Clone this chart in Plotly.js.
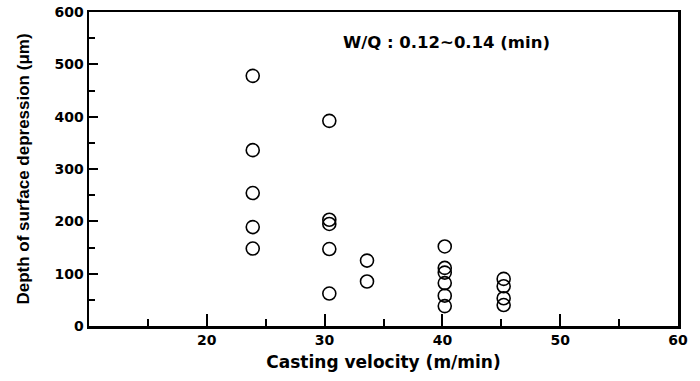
<!DOCTYPE html>
<html>
<head>
<meta charset="utf-8">
<script src="https://cdn.plot.ly/plotly-3.0.1.min.js"></script>
<style>html,body{margin:0;padding:0;background:#fff;}#chart{width:700px;height:381px;}</style>
</head>
<body>
<div id="chart"></div>
<script>
// Casting velocity (m/min)
const velocity = [23.9, 23.9, 23.9, 23.9, 23.9,
                  30.4, 30.4, 30.4, 30.4, 30.4,
                  33.6, 33.6,
                  40.2, 40.2, 40.2, 40.2, 40.2, 40.2,
                  45.2, 45.2, 45.2, 45.2];
// Depth of surface depression (um)
const depth = [478, 336, 254, 189, 148,
               392, 203, 195, 147, 62,
               125, 85,
               152, 111, 102, 82, 58, 38,
               90, 76, 53, 40];
const xTickVals = [20, 30, 40, 50, 60];
const yTickVals = [0, 100, 200, 300, 400, 500, 600];
const noteText = "W/Q : 0.12~0.14 (min)";

const WIDE = "DejaVu Sans, Verdana, sans-serif";
const FONT = "Liberation Sans, Arial, Helvetica, sans-serif";

const trace = {
  x: velocity, y: depth, type: "scatter", mode: "markers",
  marker: {symbol: "circle-open", size: 13, color: "#000", line: {width: 1.6, color: "#000"}},
  hoverinfo: "x+y"
};

const layout = {
  width: 700, height: 381,
  margin: {l: 89, r: 22, t: 12, b: 55},
  paper_bgcolor: "#fff", plot_bgcolor: "#fff",
  showlegend: false,
  font: {family: FONT, color: "#000"},
  xaxis: {
    range: [10, 60], tickmode: "array", tickvals: xTickVals, ticktext: xTickVals.map(v => "<b>" + v + "</b>"),
    ticks: "inside", ticklen: 12, tickwidth: 2, tickcolor: "#000",
    minor: {tick0: 15, dtick: 10, ticks: "inside", ticklen: 7, tickwidth: 2, tickcolor: "#000", showgrid: false},
    showline: true, linewidth: 2.5, linecolor: "#000", mirror: true,
    showgrid: false, zeroline: false,
    tickfont: {family: WIDE, size: 14, color: "#000"},
    title: {text: "<b>Casting velocity (m/min)</b>", font: {family: WIDE, size: 17, color: "#000"}, standoff: 9}
  },
  yaxis: {
    range: [0, 600], tickmode: "array", tickvals: yTickVals, ticktext: yTickVals.map(v => "<b>" + v + "</b>"),
    ticks: "inside", ticklen: 9, tickwidth: 2, tickcolor: "#000",
    minor: {tick0: 50, dtick: 100, ticks: "inside", ticklen: 6, tickwidth: 2, tickcolor: "#000", showgrid: false},
    showline: true, linewidth: 2.5, linecolor: "#000", mirror: true,
    showgrid: false, zeroline: false,
    tickfont: {family: WIDE, size: 14, color: "#000"},
    title: {text: "<b>Depth of surface depression (μm)</b>", font: {family: FONT, size: 17, color: "#000"}, standoff: 21}
  },
  annotations: [{
    text: "<b>" + noteText + "</b>", xref: "paper", yref: "paper",
    x: 0.607, y: 0.904, xanchor: "center", yanchor: "middle", showarrow: false,
    font: {family: WIDE, size: 16.5, color: "#000"}
  }]
};

Plotly.newPlot("chart", [trace], layout, {displayModeBar: false, staticPlot: true});
</script>
</body>
</html>
